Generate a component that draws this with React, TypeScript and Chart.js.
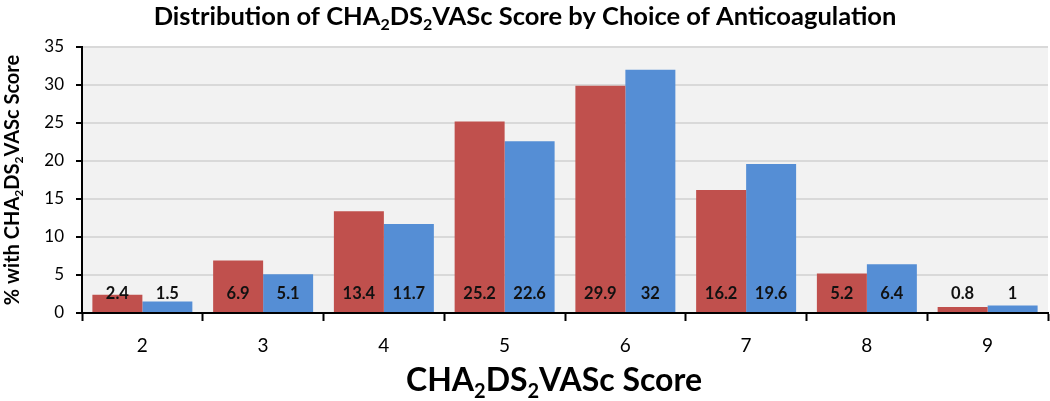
import React, { useEffect, useRef } from "react";
import { Chart, registerables } from "chart.js";

Chart.register(...registerables);

const categories = ["2", "3", "4", "5", "6", "7", "8", "9"];
const redValues = [2.4, 6.9, 13.4, 25.2, 29.9, 16.2, 5.2, 0.8];
const blueValues = [1.5, 5.1, 11.7, 22.6, 32, 19.6, 6.4, 1];
const redLabels = ["2.4", "6.9", "13.4", "25.2", "29.9", "16.2", "5.2", "0.8"];
const blueLabels = ["1.5", "5.1", "11.7", "22.6", "32", "19.6", "6.4", "1"];
const titleText = "Distribution of CHA_2DS_2VASc Score by Choice of Anticoagulation";
const yTitleText = "% with CHA_2DS_2VASc Score";
const xTitleText = "CHA_2DS_2VASc Score";

const FONT = "Lato, 'Open Sans', sans-serif";

function parseRich(text: string) {
  const parts: { t: string; sub: boolean }[] = [];
  const re = /_(\d)/g;
  let last = 0;
  let m: RegExpExecArray | null;
  while ((m = re.exec(text))) {
    if (m.index > last) parts.push({ t: text.slice(last, m.index), sub: false });
    parts.push({ t: m[1], sub: true });
    last = m.index + m[0].length;
  }
  if (last < text.length) parts.push({ t: text.slice(last), sub: false });
  return parts;
}

function drawRich(ctx: CanvasRenderingContext2D, text: string, cx: number, cy: number, size: number) {
  const parts = parseRich(text);
  const subSize = Math.round(size * 0.62);
  let total = 0;
  const widths = parts.map((p) => {
    ctx.font = `bold ${p.sub ? subSize : size}px ${FONT}`;
    const w = ctx.measureText(p.t).width;
    total += w;
    return w;
  });
  let x = cx - total / 2;
  ctx.textAlign = "left";
  ctx.textBaseline = "middle";
  parts.forEach((p, i) => {
    ctx.font = `bold ${p.sub ? subSize : size}px ${FONT}`;
    ctx.fillText(p.t, x, p.sub ? cy + size * 0.32 : cy);
    x += widths[i];
  });
}

const decorPlugin = {
  id: "decor",
  beforeDraw(chart: any) {
    const { ctx, chartArea } = chart;
    ctx.save();
    ctx.fillStyle = "#F2F2F2";
    ctx.fillRect(chartArea.left, chartArea.top, chartArea.right - chartArea.left, chartArea.bottom - chartArea.top);
    ctx.restore();
  },
  afterDraw(chart: any) {
    const { ctx } = chart;
    const yScale = chart.scales.y;
    ctx.save();
    ctx.fillStyle = "#000";
    drawRich(ctx, titleText, 525, 17, 25.5);
    drawRich(ctx, xTitleText, 554, 381, 32);
    ctx.save();
    ctx.translate(13, 180);
    ctx.rotate(-Math.PI / 2);
    drawRich(ctx, yTitleText, 0, 0, 20);
    ctx.restore();
    // data labels
    const labelY = yScale.getPixelForValue(2.55);
    ctx.font = `bold 16.5px ${FONT}`;
    ctx.textAlign = "center";
    ctx.textBaseline = "middle";
    ctx.fillStyle = "#111";
    const labelSets = [redLabels, blueLabels];
    [0, 1].forEach((di) => {
      const meta = chart.getDatasetMeta(di);
      meta.data.forEach((bar: any, i: number) => {
        ctx.fillText(labelSets[di][i], bar.x, labelY);
      });
    });
    ctx.restore();
  },
};

export default function App() {
  const ref = useRef<HTMLCanvasElement>(null);
  useEffect(() => {
    if (!ref.current) return;
    const chart = new Chart(ref.current, {
      type: "bar",
      data: {
        labels: categories,
        datasets: [
          { label: "Red", data: redValues, backgroundColor: "#C0504D", categoryPercentage: 0.828, barPercentage: 1 },
          { label: "Blue", data: blueValues, backgroundColor: "#558ED5", categoryPercentage: 0.828, barPercentage: 1 },
        ],
      },
      options: {
        animation: false,
        responsive: false,
        maintainAspectRatio: false,
        layout: { padding: { top: 47, right: 2, left: 0, bottom: 0 } },
        plugins: { legend: { display: false }, title: { display: false }, tooltip: { enabled: false } },
        scales: {
          x: {
            grid: { offset: true, drawOnChartArea: false, tickLength: 8, tickColor: "#000", tickWidth: 2 },
            border: { color: "#000", width: 2 },
            ticks: { color: "#000", font: { family: FONT, size: 19 }, padding: 13 },
            afterFit: (s: any) => { s.height = 88; },
          },
          y: {
            min: 0,
            max: 35,
            ticks: { stepSize: 5, color: "#000", font: { family: FONT, size: 17 }, padding: 12 },
            grid: { color: "#D9D9D9", lineWidth: 2, tickLength: 6, tickColor: "#000", tickWidth: 2 },
            border: { color: "#000", width: 2 },
            afterFit: (s: any) => { s.width = 82; },
          },
        },
      },
      plugins: [decorPlugin],
    });
    return () => chart.destroy();
  }, []);
  return (
    <div style={{ position: "absolute", left: 0, top: 0, width: 1050, height: 401 }}>
      <canvas ref={ref} width={1050} height={401} style={{ display: "block" }} />
    </div>
  );
}
